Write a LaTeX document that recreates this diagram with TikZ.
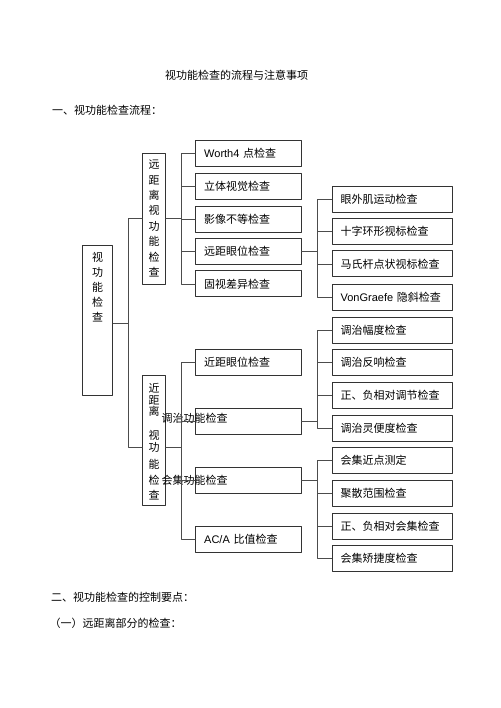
\documentclass[tikz,border=0pt]{standalone}
\usepackage{fontspec}
\setmainfont{Liberation Sans}
\newfontfamily\cjk{Noto Sans CJK SC}
\newfontfamily\lat{Liberation Sans}
\usetikzlibrary{calc}
\tikzset{
  every picture/.style={line cap=round, line join=round},
  box/.style={draw=black!80, line width=0.8pt, anchor=west, minimum height=26pt,
    inner xsep=8.5pt, inner ysep=0pt, align=left, font=\cjk\fontsize{11}{13}\selectfont},
  midbox/.style={box, text width=88.7pt},
  rightbox/.style={box, text width=103pt},
  colbox/.style={draw=black!80, line width=0.8pt, minimum width=23pt, inner sep=0pt},
  colchar/.style={font=\cjk\fontsize{11}{15.4}\selectfont, align=center, inner sep=0pt},
  link/.style={draw=black!70, line width=0.6pt},
  head/.style={font=\cjk\fontsize{11}{13}\selectfont, anchor=west, inner sep=0pt}
}

\begin{document}
\begin{tikzpicture}[x=1pt, y=-1pt]
  \useasboundingbox (0,0) rectangle (500,708);

  % headings
  \node[head, anchor=center] (title) at (236.5,75) {视功能检查的流程与注意事项};
  \node[head] (sec1) at (52,110) {一、视功能检查流程：};
  \node[head] (sec2) at (51,597) {二、视功能检查的控制要点：};
  \node[head] (sub1) at (49.5,623) {（一）远距离部分的检查：};

  % vertical boxes
  \node[colbox, minimum width=30.4pt, minimum height=150pt] (main) at (97.5,320) {};
  \node[colchar, font=\cjk\fontsize{11}{15.15}\selectfont] (maintxt) at (97.7,287)
    {视\\功\\能\\检\\查};
  \node[colbox, colchar, minimum height=131pt] (far) at (154.2,218.5)
    {远\\距\\离\\视\\功\\能\\检\\查};
  \node[colbox, minimum height=130pt] (near) at (154.2,440.7) {};
  \foreach \c/\y [count=\i] in {近/388,距/400,离/411.7,视/435,功/447.5,能/464,检/480,查/495}
    \node[colchar] (nc\i) at (154.2,\y) {\c};

  % middle column
  \node[midbox] (worth)   at (195.3,153.7) {{\lat Worth4} 点检查};
  \node[midbox] (stereo)  at (195.3,186.7) {立体视觉检查};
  \node[midbox] (aniso)   at (195.3,219)   {影像不等检查};
  \node[midbox] (farpos)  at (195.3,251.3) {远距眼位检查};
  \node[midbox] (fixdisp) at (195.3,283.8) {固视差异检查};
  \node[midbox] (nearpos) at (195.3,362.3) {近距眼位检查};
  \node[midbox] (accom)   at (195.3,421.7) {};
  \node[midbox] (conv)    at (195.3,480)   {};
  \node[midbox] (aca)     at (195.3,539)   {{\lat AC/A} 比值检查};

  % labels that sit off their boxes
  \node[head] (accomtxt) at (161.5,418.5) {调治功能检查};
  \node[head] (convtxt)  at (161.5,480)   {会集功能检查};

  % right column
  \node[rightbox] (eom)    at (331.7,199.3) {眼外肌运动检查};
  \node[rightbox] (cross)  at (331.7,231.3) {十字环形视标检查};
  \node[rightbox] (maddox) at (331.7,263.8) {马氏杆点状视标检查};
  \node[rightbox] (vongr)  at (331.7,297)   {{\lat VonGraefe} 隐斜检查};
  \node[rightbox] (ampl)   at (331.7,330.3) {调治幅度检查};
  \node[rightbox] (resp)   at (331.7,362.5) {调治反响检查};
  \node[rightbox] (rel)    at (331.7,395.3) {正、负相对调节检查};
  \node[rightbox] (facil)  at (331.7,428)   {调治灵便度检查};
  \node[rightbox] (npc)    at (331.7,460.7) {会集近点测定};
  \node[rightbox] (vergr)  at (331.7,493)   {聚散范围检查};
  \node[rightbox] (relc)   at (331.7,526.3) {正、负相对会集检查};
  \node[rightbox] (convf)  at (331.7,558.7) {会集矫捷度检查};

  % brackets
  \draw[link] ([yshift=-3.3pt]main.east) -- ++(15.6,0) |- (far.west);
  \draw[link] ([yshift=-3.3pt]main.east) -- ++(15.6,0) |- ([yshift=-6.6pt]near.west);
  \foreach \t in {worth,stereo,aniso,farpos,fixdisp}
    \draw[link] (far.east) -- ++(15,0) |- (\t.west);
  \foreach \t in {nearpos,accom,conv,aca}
    \draw[link] ([yshift=-6.6pt]near.east) -- ++(15,0) |- (\t.west);
  \foreach \t in {eom,cross,maddox,vongr}
    \draw[link] (farpos.east) -- ++(15.7,0) |- (\t.west);
  \foreach \t in {ampl,resp,rel,facil}
    \draw[link] (accom.east) -- ++(15.7,0) |- (\t.west);
  \foreach \t in {npc,vergr,relc,convf}
    \draw[link] (conv.east) -- ++(15.7,0) |- (\t.west);
\end{tikzpicture}
\end{document}
